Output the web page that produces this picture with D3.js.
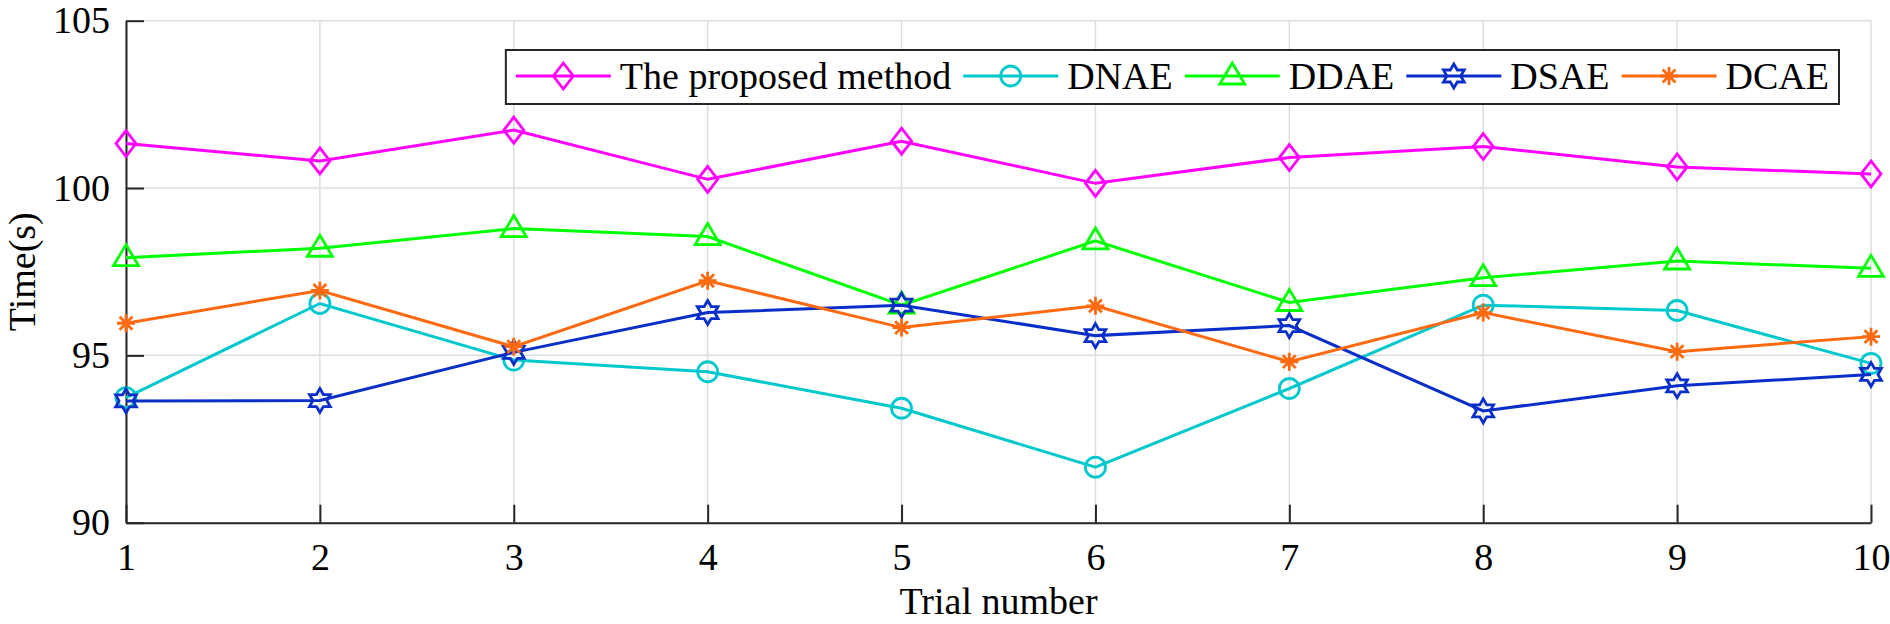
<!DOCTYPE html>
<html>
<head>
  <title>Trial time comparison</title>
  <script src="https://d3js.org/d3.v7.min.js"></script>
  <style>
    body { margin: 0; background: white; }
    text { font-family: "Times New Roman", "Liberation Serif", serif; fill: black; }
  </style>
</head>
<body>
  <div id="chart"></div>

  <script>
    // values
    var trials = [1, 2, 3, 4, 5, 6, 7, 8, 9, 10];
    var proposed = [101.33, 100.81, 101.73, 100.26, 101.40, 100.14, 100.91, 101.24, 100.63, 100.42];
    var dnae = [93.74, 96.55, 94.86, 94.51, 93.42, 91.66, 94.01, 96.50, 96.34, 94.76];
    var ddae = [97.92, 98.20, 98.79, 98.55, 96.50, 98.42, 96.58, 97.32, 97.82, 97.60];
    var dsae = [93.64, 93.65, 95.09, 96.28, 96.50, 95.59, 95.89, 93.34, 94.09, 94.43];
    var dcae = [95.96, 96.94, 95.26, 97.23, 95.83, 96.48, 94.81, 96.28, 95.11, 95.56];
    var yTicks = [90, 95, 100, 105];

    var seriesNames = ["The proposed method", "DNAE", "DDAE", "DSAE", "DCAE"];
    var seriesValues = [proposed, dnae, ddae, dsae, dcae];
    var seriesColors = ["#ff00ff", "#00c8cc", "#00ff00", "#0a2fc8", "#ff6a10"];
    var seriesMarkers = ["diamond", "circle", "triangle", "hexagram", "asterisk"];

    var svg = d3.select("#chart")
                .append("svg")
                .attr("width", 1890)
                .attr("height", 624);

    var plotLeft = 126, plotRight = 1871, plotTop = 20.7, plotBottom = 522.7;
    var fontSize = 38;

    var xScale = d3.scaleLinear().domain([1, 10]).range([plotLeft, plotRight]);
    var yScale = d3.scaleLinear().domain([90, 105]).range([plotBottom, plotTop]);

    // marker shapes, centred on 0,0
    function markerPath(type) {
      if (type === "diamond") return "M0,-13L10,0L0,13L-10,0Z";
      if (type === "triangle") return "M0,-13L12.5,8L-12.5,8Z";
      if (type === "hexagram") {
        var R = 12, r = R / Math.sqrt(3), pts = [];
        for (var i = 0; i < 12; i++) {
          var a = (-90 + i * 30) * Math.PI / 180;
          var rad = i % 2 === 0 ? R : r;
          pts.push([rad * Math.cos(a), rad * Math.sin(a)]);
        }
        return "M" + pts.map(p => p[0].toFixed(2) + "," + p[1].toFixed(2)).join("L") + "Z";
      }
      if (type === "asterisk") {
        return "M0,-9L0,9M-9,0L9,0M-6.4,-6.4L6.4,6.4M-6.4,6.4L6.4,-6.4";
      }
      return null;
    }

    function drawMarker(g, type, color) {
      if (type === "circle") {
        g.append("circle").attr("r", 10)
         .attr("fill", "none").attr("stroke", color).attr("stroke-width", 2.8);
      } else {
        g.append("path").attr("d", markerPath(type))
         .attr("fill", "none").attr("stroke", color).attr("stroke-width", 2.8)
         .attr("stroke-linejoin", "miter");
      }
    }

    // grid
    svg.append("g")
       .selectAll("line")
       .data(trials)
       .enter().append("line")
       .attr("x1", d => xScale(d)).attr("x2", d => xScale(d))
       .attr("y1", plotTop).attr("y2", plotBottom)
       .attr("stroke", "#dedede").attr("stroke-width", 1.5);

    svg.append("g")
       .selectAll("line")
       .data(yTicks)
       .enter().append("line")
       .attr("x1", plotLeft).attr("x2", plotRight)
       .attr("y1", d => yScale(d)).attr("y2", d => yScale(d))
       .attr("stroke", "#dedede").attr("stroke-width", 1.5);

    // axes
    var xAxis = svg.append("g")
       .attr("transform", `translate(0, ${plotBottom})`)
       .call(d3.axisBottom(xScale).tickValues(trials).tickFormat(d3.format("d"))
               .tickSizeInner(-18).tickSizeOuter(0).tickPadding(20));

    var yAxis = svg.append("g")
       .attr("transform", `translate(${plotLeft}, 0)`)
       .call(d3.axisLeft(yScale).tickValues(yTicks)
               .tickSizeInner(-18).tickSizeOuter(0).tickPadding(16));

    [xAxis, yAxis].forEach(function(ax) {
      ax.select(".domain").attr("stroke", "#262626").attr("stroke-width", 2);
      ax.selectAll(".tick line").attr("stroke", "#262626").attr("stroke-width", 2);
      ax.selectAll(".tick text")
        .attr("font-size", fontSize)
        .attr("font-family", "'Times New Roman', 'Liberation Serif', serif")
        .attr("fill", "black");
    });

    svg.append("text")
       .attr("x", (plotLeft + plotRight) / 2)
       .attr("y", 614)
       .attr("font-size", fontSize)
       .style("text-anchor", "middle")
       .text("Trial number");

    svg.append("text")
       .attr("transform", `translate(35, ${(plotTop + plotBottom) / 2}) rotate(-90)`)
       .attr("font-size", fontSize)
       .style("text-anchor", "middle")
       .text("Time(s)");

    // series
    var line = d3.line()
                 .x((d, i) => xScale(trials[i]))
                 .y(d => yScale(d));

    seriesValues.forEach(function(vals, s) {
      svg.append("path")
         .datum(vals)
         .attr("fill", "none")
         .attr("stroke", seriesColors[s])
         .attr("stroke-width", 3)
         .attr("d", line);

      svg.append("g")
         .selectAll("g")
         .data(vals)
         .enter().append("g")
         .attr("transform", (d, i) => `translate(${xScale(trials[i])}, ${yScale(d)})`)
         .each(function() { drawMarker(d3.select(this), seriesMarkers[s], seriesColors[s]); });
    });

    // legend, laid out from its left padding then pinned to the right edge
    var legend = svg.append("g");
    var box = legend.append("rect")
       .attr("fill", "white")
       .attr("stroke", "#262626")
       .attr("stroke-width", 2);

    var lx = 10, ly = 26;
    seriesNames.forEach(function(name, s) {
      legend.append("line")
            .attr("x1", lx).attr("x2", lx + 95)
            .attr("y1", ly).attr("y2", ly)
            .attr("stroke", seriesColors[s]).attr("stroke-width", 3);
      var m = legend.append("g").attr("transform", `translate(${lx + 47.5}, ${ly})`);
      drawMarker(m, seriesMarkers[s], seriesColors[s]);
      var t = legend.append("text")
            .attr("x", lx + 104)
            .attr("y", 39)
            .attr("font-size", fontSize)
            .text(name);
      lx = lx + 104 + t.node().getComputedTextLength() + 12;
    });

    var boxW = lx - 12 + 10;
    box.attr("x", 0).attr("y", 0).attr("width", boxW).attr("height", 54);
    legend.attr("transform", `translate(${1839 - boxW}, 50)`);
  </script>
</body>
</html>
